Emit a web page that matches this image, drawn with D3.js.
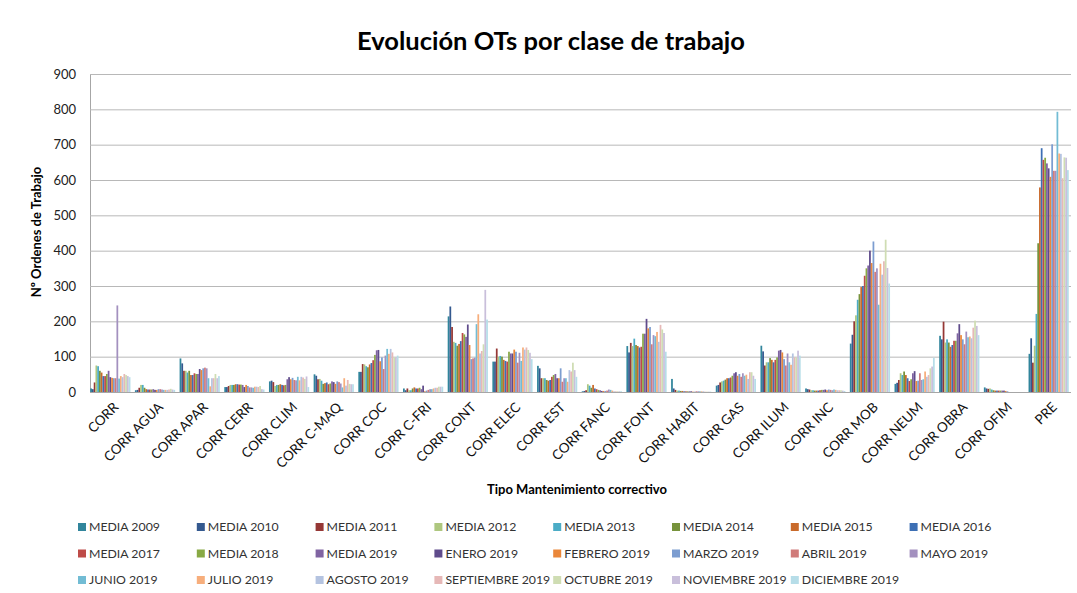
<!DOCTYPE html>
<html>
<head>
<meta charset="utf-8">
<script src="https://cdn.jsdelivr.net/npm/d3@7"></script>
<style>
  body { margin: 0; background: #fff; }
  text { font-family: Lato, "Liberation Sans", sans-serif; }
</style>
</head>
<body>
<svg id="chart" width="1077" height="593"></svg>
<script>
// categories on the x axis
var categories = ["CORR", "CORR AGUA", "CORR APAR", "CORR CERR", "CORR CLIM", "CORR C-MAQ",
	"CORR COC", "CORR C-FRI", "CORR CONT", "CORR ELEC", "CORR EST", "CORR FANC", "CORR FONT",
	"CORR HABIT", "CORR GAS", "CORR ILUM", "CORR INC", "CORR MOB", "CORR NEUM", "CORR OBRA",
	"CORR OFIM", "PRE"];

// one series per year average / month
var seriesNames = ["MEDIA 2009", "MEDIA 2010", "MEDIA 2011", "MEDIA 2012", "MEDIA 2013", "MEDIA 2014",
	"MEDIA 2015", "MEDIA 2016", "MEDIA 2017", "MEDIA 2018", "MEDIA 2019", "ENERO 2019",
	"FEBRERO 2019", "MARZO 2019", "ABRIL 2019", "MAYO 2019", "JUNIO 2019", "JULIO 2019",
	"AGOSTO 2019", "SEPTIEMBRE 2019", "OCTUBRE 2019", "NOVIEMBRE 2019", "DICIEMBRE 2019"];

var seriesColors = ["#31859c", "#34598f", "#953735", "#aec77f", "#4bacc6", "#77933c",
	"#c96a2b", "#3d6fb4", "#be4b48", "#88a944", "#8064a2", "#5f4b8b",
	"#ea873a", "#7c9dd0", "#d07b7a", "#a390bf", "#72bcd4", "#f7ae7c",
	"#b4c3e0", "#e6b8b7", "#cfddb3", "#c9bfdb", "#b6dde8"];

// Nº ordenes, one row per category, one value per series
var ordenes = [
	[10, 8, 27, 75, 73, 60, 55, 45, 45, 51, 60, 42, 40, 39, 39, 245, 38, 45, 42, 51, 48, 45, 42],          // CORR
	[5, 6, 12, 20, 20, 12, 8, 7, 7, 7, 8, 6, 6, 8, 8, 7, 6, 6, 6, 7, 9, 7, 6],                            // AGUA
	[95, 81, 60, 60, 55, 60, 48, 48, 53, 51, 51, 65, 62, 67, 69, 67, 39, 16, 39, 39, 51, 39, 45],          // APAR
	[14, 14, 17, 20, 20, 20, 22, 22, 21, 21, 20, 14, 20, 17, 13, 13, 12, 15, 15, 14, 17, 8, 7],            // CERR
	[30, 32, 28, 17, 20, 20, 22, 20, 19, 20, 36, 42, 36, 40, 34, 33, 43, 33, 43, 41, 37, 44, 14],          // CLIM
	[50, 46, 36, 37, 32, 23, 25, 27, 22, 24, 30, 28, 23, 30, 28, 24, 13, 39, 18, 34, 23, 22, 22],          // C-MAQ
	[57, 57, 79, 78, 73, 70, 78, 82, 90, 105, 118, 119, 87, 98, 65, 103, 122, 108, 122, 112, 98, 98, 103], // COC
	[10, 5, 10, 5, 5, 10, 13, 10, 10, 12, 8, 18, 2, 4, 6, 8, 8, 10, 12, 12, 15, 15, 15],                   // C-FRI
	[214, 242, 184, 142, 139, 131, 136, 144, 167, 163, 156, 191, 133, 93, 95, 97, 192, 220, 109, 116, 135, 289, 205], // CONT
	[86, 86, 123, 100, 102, 100, 91, 88, 86, 114, 109, 109, 120, 114, 83, 111, 88, 126, 120, 126, 119, 111, 93],   // ELEC
	[74, 67, 39, 39, 39, 34, 32, 34, 43, 48, 51, 39, 39, 67, 29, 39, 39, 29, 62, 58, 83, 62, 43],          // EST
	[2, 3, 5, 22, 18, 12, 20, 10, 8, 6, 5, 3, 3, 3, 4, 7, 6, 4, 2, 2, 2, 2, 2],                           // FANC
	[130, 112, 139, 130, 151, 133, 130, 126, 128, 165, 165, 207, 180, 184, 135, 161, 158, 170, 142, 190, 177, 167, 114], // FONT
	[37, 10, 6, 4, 4, 3, 3, 2, 2, 2, 2, 2, 1, 1, 2, 2, 2, 2, 2, 1, 1, 1, 1],                              // HABIT
	[18, 20, 27, 30, 32, 35, 39, 39, 41, 46, 53, 56, 46, 51, 43, 53, 46, 49, 37, 56, 56, 46, 37],          // GAS
	[131, 115, 75, 84, 84, 96, 91, 84, 91, 98, 117, 119, 112, 93, 75, 109, 84, 77, 109, 98, 98, 117, 103], // ILUM
	[10, 8, 7, 5, 5, 4, 4, 4, 5, 6, 6, 7, 5, 7, 6, 5, 7, 6, 5, 5, 5, 4, 3],                               // INC
	[137, 162, 200, 217, 261, 277, 297, 300, 329, 350, 358, 400, 365, 426, 340, 350, 247, 363, 332, 370, 431, 351, 307], // MOB
	[23, 26, 34, 53, 48, 58, 48, 39, 31, 36, 53, 59, 31, 32, 53, 34, 36, 58, 43, 48, 67, 72, 97],          // NEUM
	[159, 149, 199, 140, 149, 140, 128, 133, 145, 145, 166, 192, 161, 149, 135, 171, 155, 157, 152, 182, 202, 187, 161], // OBRA
	[13, 10, 9, 10, 7, 5, 4, 4, 4, 4, 4, 4, 3, 2, 0, 0, 0, 0, 0, 0, 0, 0, 0],                             // OFIM
	[108, 152, 83, 131, 221, 421, 579, 690, 657, 663, 647, 633, 609, 701, 626, 626, 793, 675, 674, 605, 664, 663, 628]  // PRE
];

var yTicks = [0, 100, 200, 300, 400, 500, 600, 700, 800, 900];

function drawChart() {
	var svg = d3.select("#chart"),
		plotLeft = 88, plotRight = 1071, plotTop = 74, plotBottom = 392;

	var x0 = d3.scaleBand().domain(categories).range([plotLeft, plotRight])
			.paddingInner(0.1).paddingOuter(0.05),
		x1 = d3.scaleBand().domain(seriesNames).range([0, x0.bandwidth()]),
		y = d3.scaleLinear().domain([0, 900]).range([plotBottom, plotTop]),
		color = d3.scaleOrdinal().domain(seriesNames).range(seriesColors);

	// title
	svg.append("text")
		.attr("x", 551).attr("y", 50)
		.attr("text-anchor", "middle")
		.attr("font-size", 25.5).attr("font-weight", "bold")
		.attr("fill", "#000")
		.text("Evolución OTs por clase de trabajo");

// --- gridlines + y axis --- //
	var yAxis = svg.append("g")
		.attr("transform", "translate(" + (plotLeft + 2) + ",0)")
		.call(d3.axisLeft(y).tickValues(yTicks).tickSize(-(plotRight - plotLeft - 2)).tickPadding(14));
	yAxis.select(".domain").attr("stroke", "#a6a6a6");
	yAxis.selectAll(".tick line").attr("stroke", "#b8b8b8");
	yAxis.selectAll(".tick text").attr("font-size", 13).attr("fill", "#222")
		.attr("font-family", "Lato, sans-serif");

	svg.append("text")
		.attr("transform", "translate(41,232) rotate(-90)")
		.attr("text-anchor", "middle")
		.attr("font-size", 13).attr("font-weight", "bold")
		.text("Nº Ordenes de Trabajo");

// --- bars --- //
	var groups = svg.append("g").selectAll("g")
		.data(categories)
		.enter().append("g")
		.attr("transform", function(d) { return "translate(" + x0(d) + ",0)"; });

	groups.selectAll("rect")
		.data(function(d, i) {
			return ordenes[i].map(function(v, j) { return {serie: seriesNames[j], value: v}; });
		})
		.enter().append("rect")
		.attr("x", function(d) { return x1(d.serie); })
		.attr("width", x1.bandwidth())
		.attr("y", function(d) { return y(d.value); })
		.attr("height", function(d) { return plotBottom - y(d.value); })
		.attr("fill", function(d) { return color(d.serie); });

	// x axis line
	svg.append("line")
		.attr("x1", plotLeft + 2).attr("x2", plotRight)
		.attr("y1", plotBottom + 0.5).attr("y2", plotBottom + 0.5)
		.attr("stroke", "#a6a6a6");

	// rotated category labels
	svg.append("g").selectAll("text")
		.data(categories)
		.enter().append("text")
		.attr("transform", function(d) {
			return "translate(" + (x0(d) + x0.bandwidth() / 2 + 9) + ",408) rotate(-45)";
		})
		.attr("text-anchor", "end")
		.attr("font-size", 13.5)
		.attr("fill", "#111")
		.text(function(d) { return d; });

	svg.append("text")
		.attr("x", 577).attr("y", 494)
		.attr("text-anchor", "middle")
		.attr("font-size", 13).attr("font-weight", "bold")
		.text("Tipo Mantenimiento correctivo");

// --- legend --- //
	var legend = svg.append("g").selectAll("g")
		.data(seriesNames)
		.enter().append("g")
		.attr("transform", function(d, i) {
			return "translate(" + (78 + (i % 8) * 118.8) + "," + (527 + Math.floor(i / 8) * 26.5) + ")";
		});

	legend.append("rect")
		.attr("x", 0).attr("y", -4)
		.attr("width", 8).attr("height", 8)
		.attr("fill", function(d) { return color(d); });

	legend.append("text")
		.attr("x", 11).attr("y", 0).attr("dy", "0.35em")
		.attr("font-size", 12.3)
		.attr("fill", "#333")
		.text(function(d) { return d; });
}

drawChart();
</script>
</body>
</html>
